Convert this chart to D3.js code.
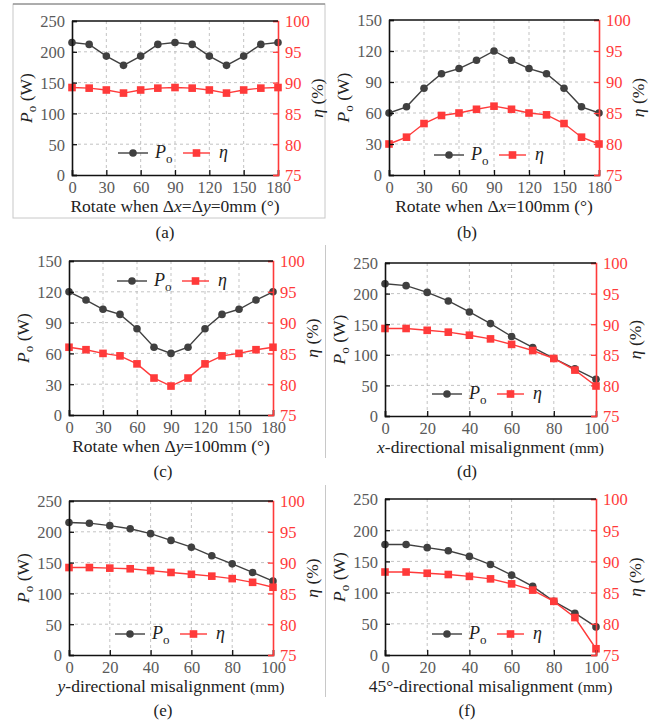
<!DOCTYPE html>
<html>
<head>
<meta charset="utf-8">
<script src="https://cdn.jsdelivr.net/npm/d3@7"></script>
<style>
  body { margin: 0; background: #fff; }
  svg { display: block; font-family: "Liberation Serif", "Times New Roman", serif; }
</style>
</head>
<body>
<svg width="660" height="725"></svg>
<script>
var svg = d3.select('svg');

// x values
var angles = [0, 15, 30, 45, 60, 75, 90, 105, 120, 135, 150, 165, 180];
var offsets = [0, 10, 20, 30, 40, 50, 60, 70, 80, 90, 100];

// tick labels
var angleTicks = [0, 30, 60, 90, 120, 150, 180];
var offsetTicks = [0, 20, 40, 60, 80, 100];
var powerTicks250 = [0, 50, 100, 150, 200, 250];
var powerTicks150 = [0, 30, 60, 90, 120, 150];
var etaTicks = [75, 80, 85, 90, 95, 100];

// series: output power (W) and efficiency (%)
var poA = [215, 212, 193, 178, 193, 212, 215, 212, 193, 178, 193, 212, 215];
var etaA = [89.2, 89.1, 88.8, 88.3, 88.8, 89.1, 89.2, 89.1, 88.8, 88.3, 88.8, 89.1, 89.2];
var poB = [60, 66, 84, 98, 103, 111, 120, 111, 103, 98, 84, 66, 60];
var etaB = [80, 81.1, 83.3, 84.6, 85, 85.6, 86.1, 85.6, 85, 84.7, 83.3, 81.1, 80];
var poC = [120, 112, 103, 98, 84, 66, 60, 66, 84, 98, 103, 112, 120];
var etaC = [86, 85.6, 85, 84.6, 83.3, 81, 79.7, 81, 83.3, 84.6, 85, 85.6, 86];
var poD = [216, 213, 202, 188, 170, 151, 130, 112, 94, 77, 60];
var etaD = [89.3, 89.3, 89.0, 88.7, 88.2, 87.6, 86.7, 85.7, 84.4, 82.5, 79.9];
var poE = [215, 214, 210, 205, 197, 186, 175, 161, 148, 134, 120];
var etaE = [89.2, 89.2, 89.1, 89.0, 88.7, 88.4, 88.1, 87.8, 87.4, 86.8, 86.0];
var poF = [177, 177, 172, 167, 158, 145, 128, 110, 86, 67, 45];
var etaF = [88.3, 88.3, 88.1, 87.9, 87.6, 87.2, 86.4, 85.4, 83.6, 81.0, 76.0];

var black = '#404040';
var red = '#ff3a3a';

var panels = [
    { tag: '(a)', xs: angles, po: poA, eta: etaA, xTicks: angleTicks, pTicks: powerTicks250,
      box: [72, 21, 278, 175], legend: [118, 153], tagPos: [165, 238],
      xlabel: [['Rotate when Δ'], ['x', 'i'], ['=Δ'], ['y', 'i'], ['=0mm (°)']] },
    { tag: '(b)', xs: angles, po: poB, eta: etaB, xTicks: angleTicks, pTicks: powerTicks150,
      box: [389, 20, 599, 175], legend: [434, 155], tagPos: [467, 238],
      xlabel: [['Rotate when Δ'], ['x', 'i'], ['=100mm (°)']] },
    { tag: '(c)', xs: angles, po: poC, eta: etaC, xTicks: angleTicks, pTicks: powerTicks150,
      box: [69, 261, 273, 415], legend: [117, 281], tagPos: [163, 477],
      xlabel: [['Rotate when Δ'], ['y', 'i'], ['=100mm (°)']] },
    { tag: '(d)', xs: offsets, po: poD, eta: etaD, xTicks: offsetTicks, pTicks: powerTicks250,
      box: [385, 263, 596, 416], legend: [432, 394], tagPos: [467, 477],
      xlabel: [['x', 'i'], ['-directional misalignment '], ['(mm)', 's']] },
    { tag: '(e)', xs: offsets, po: poE, eta: etaE, xTicks: offsetTicks, pTicks: powerTicks250,
      box: [69, 501, 273, 655], legend: [115, 634], tagPos: [163, 716],
      xlabel: [['y', 'i'], ['-directional misalignment '], ['(mm)', 's']] },
    { tag: '(f)', xs: offsets, po: poF, eta: etaF, xTicks: offsetTicks, pTicks: powerTicks250,
      box: [385, 499, 596, 655], legend: [432, 634], tagPos: [467, 716],
      xlabel: [['45°-directional misalignment '], ['(mm)', 's']] }
];

// light frames / separators
svg.append('rect').attr('x', 13).attr('y', 4).attr('width', 312).attr('height', 214)
    .attr('fill', 'none').attr('stroke', '#c8c8c8').attr('stroke-width', 1);
svg.append('line').attr('x1', 13).attr('x2', 325).attr('y1', 4).attr('y2', 4)
    .attr('stroke', '#777').attr('stroke-width', 1);
svg.append('line').attr('x1', 325.5).attr('x2', 325.5).attr('y1', 245).attr('y2', 458)
    .attr('stroke', '#c8c8c8');
svg.append('line').attr('x1', 325.5).attr('x2', 325.5).attr('y1', 485).attr('y2', 697)
    .attr('stroke', '#c8c8c8');

function addTspans(sel, parts, size) {
    parts.forEach(function(p) {
        var t = sel.append('tspan').text(p[0]);
        if (p[1] === 'i') t.attr('font-style', 'italic');
        if (p[1] === 's') t.attr('font-size', size - 2);
    });
}

function drawPanel(p) {
    var x0 = p.box[0], y0 = p.box[1], x1 = p.box[2], y1 = p.box[3];
    var g = svg.append('g');
    var x = d3.scaleLinear().domain([p.xTicks[0], p.xTicks[p.xTicks.length - 1]]).range([x0, x1]);
    var yP = d3.scaleLinear().domain([0, p.pTicks[p.pTicks.length - 1]]).range([y1, y0]);
    var yE = d3.scaleLinear().domain([75, 100]).range([y1, y0]);

    // dashed grid
    g.append('g').selectAll('line').data(p.xTicks.slice(1, -1)).enter().append('line')
        .attr('x1', function(d) { return x(d); }).attr('x2', function(d) { return x(d); })
        .attr('y1', y0).attr('y2', y1)
        .attr('stroke', '#b4b4b4').attr('stroke-width', 0.8).attr('stroke-dasharray', '3,3');
    g.append('g').selectAll('line').data(p.pTicks.slice(1, -1)).enter().append('line')
        .attr('y1', function(d) { return yP(d); }).attr('y2', function(d) { return yP(d); })
        .attr('x1', x0).attr('x2', x1)
        .attr('stroke', '#b4b4b4').attr('stroke-width', 0.8).attr('stroke-dasharray', '3,3');

    // series
    var poLine = d3.line().x(function(d, i) { return x(p.xs[i]); }).y(function(d) { return yP(d); });
    var etaLine = d3.line().x(function(d, i) { return x(p.xs[i]); }).y(function(d) { return yE(d); });
    g.append('path').attr('d', poLine(p.po)).attr('fill', 'none').attr('stroke', black).attr('stroke-width', 1.4);
    g.append('path').attr('d', etaLine(p.eta)).attr('fill', 'none').attr('stroke', red).attr('stroke-width', 1.4);
    g.append('g').selectAll('circle').data(p.po).enter().append('circle')
        .attr('cx', function(d, i) { return x(p.xs[i]); })
        .attr('cy', function(d) { return yP(d); })
        .attr('r', 3.8).attr('fill', black);
    g.append('g').selectAll('rect').data(p.eta).enter().append('rect')
        .attr('x', function(d, i) { return x(p.xs[i]) - 3.8; })
        .attr('y', function(d) { return yE(d) - 3.8; })
        .attr('width', 7.6).attr('height', 7.6).attr('fill', red);

    // axes: ticks inward
    var bottom = d3.axisBottom(x).tickValues(p.xTicks).tickSize(-5).tickPadding(6);
    var left = d3.axisLeft(yP).tickValues(p.pTicks).tickSize(-5).tickPadding(7);
    var right = d3.axisRight(yE).tickValues(etaTicks).tickSize(-5).tickPadding(7);

    var gb = g.append('g').attr('transform', 'translate(0,' + y1 + ')').call(bottom);
    var gl = g.append('g').attr('transform', 'translate(' + x0 + ',0)').call(left);
    var gr = g.append('g').attr('transform', 'translate(' + x1 + ',0)').call(right);

    [gb, gl].forEach(function(a) {
        a.select('.domain').attr('stroke', '#111').attr('stroke-width', 1.6);
        a.selectAll('.tick line').attr('stroke', '#111').attr('stroke-width', 1.3);
        a.selectAll('.tick text').attr('fill', '#5a5a5a')
            .attr('font-family', 'Liberation Serif').attr('font-size', 16.5);
    });
    gl.selectAll('.tick text').attr('dy', '0.36em');
    gr.select('.domain').attr('stroke', red).attr('stroke-width', 1.6);
    gr.selectAll('.tick line').attr('stroke', red).attr('stroke-width', 1.3);
    gr.selectAll('.tick text').attr('fill', red)
        .attr('font-family', 'Liberation Serif').attr('font-size', 16.5).attr('dy', '0.36em');

    // top border
    g.append('line').attr('x1', x0).attr('x2', x1).attr('y1', y0).attr('y2', y0)
        .attr('stroke', '#111').attr('stroke-width', 1.6);

    // x label
    var xl = g.append('text').attr('x', (x0 + x1) / 2).attr('y', y1 + 37)
        .attr('text-anchor', 'middle').attr('font-size', 17.5).attr('fill', '#222');
    addTspans(xl, p.xlabel, 17.5);

    // left y label
    var ly = g.append('text')
        .attr('transform', 'translate(' + (x0 - 40) + ',' + ((y0 + y1) / 2) + ') rotate(-90)')
        .attr('text-anchor', 'middle').attr('font-size', 17.5).attr('fill', '#222');
    ly.append('tspan').attr('font-style', 'italic').text('P');
    ly.append('tspan').attr('font-size', 13).attr('dy', 4).text('o');
    ly.append('tspan').attr('dy', -4).text(' (W)');

    // right y label
    g.append('text')
        .attr('transform', 'translate(' + (x1 + 45) + ',' + ((y0 + y1) / 2) + ') rotate(-90)')
        .attr('text-anchor', 'middle').attr('font-size', 17.5).attr('fill', '#222')
        .call(function(t) {
            t.append('tspan').attr('font-style', 'italic').text('η');
            t.append('tspan').text(' (%)');
        });

    // legend
    var lx = p.legend[0], ly0 = p.legend[1];
    var lg = g.append('g');
    lg.append('line').attr('x1', lx).attr('x2', lx + 30).attr('y1', ly0).attr('y2', ly0)
        .attr('stroke', black).attr('stroke-width', 1.4);
    lg.append('circle').attr('cx', lx + 15).attr('cy', ly0).attr('r', 3.8).attr('fill', black);
    var lt = lg.append('text').attr('x', lx + 37).attr('y', ly0 + 5).attr('font-size', 18).attr('fill', '#222');
    lt.append('tspan').attr('font-style', 'italic').text('P');
    lt.append('tspan').attr('font-size', 13).attr('dy', 5).text('o');
    lg.append('line').attr('x1', lx + 65).attr('x2', lx + 92).attr('y1', ly0).attr('y2', ly0)
        .attr('stroke', red).attr('stroke-width', 1.4);
    lg.append('rect').attr('x', lx + 78.5 - 3.8).attr('y', ly0 - 3.8).attr('width', 7.6).attr('height', 7.6)
        .attr('fill', red);
    lg.append('text').attr('x', lx + 101).attr('y', ly0 + 5).attr('font-size', 18)
        .attr('font-style', 'italic').attr('fill', '#222').text('η');

    // panel tag
    svg.append('text').attr('x', p.tagPos[0]).attr('y', p.tagPos[1]).attr('text-anchor', 'middle')
        .attr('font-size', 17).attr('fill', '#222').text(p.tag);
}

panels.forEach(drawPanel);
</script>
</body>
</html>
